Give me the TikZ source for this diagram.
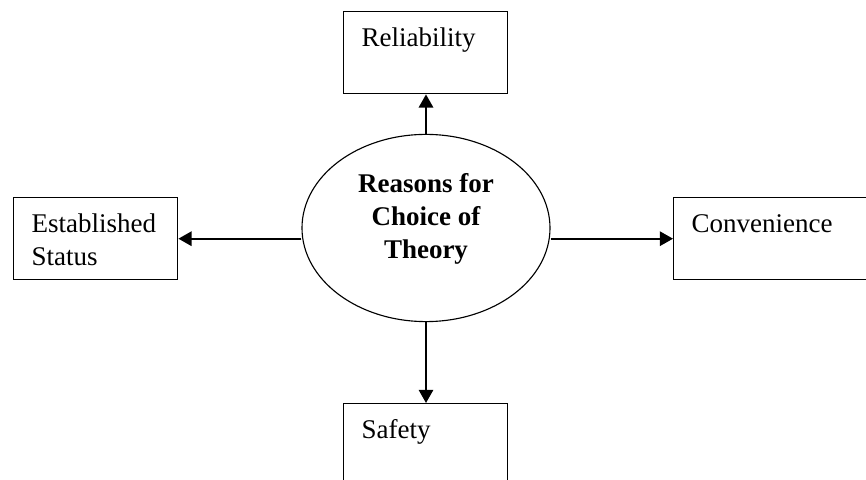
\documentclass[tikz,border=0pt]{standalone}
\usepackage{fontspec}
\setmainfont{Liberation Serif}
\usetikzlibrary{arrows.meta,shapes.geometric}

\begin{document}
\begin{tikzpicture}[
	reason/.style={draw, line width=1pt, anchor=north west,
		inner xsep=0.45cm, inner ysep=0.3cm, text width=3.2cm, align=left,
		text height=0.575cm, text depth=0.875cm,
		font=\fontsize{19.2}{23.4}\selectfont},
	link/.style={line width=1.4pt, -{Triangle[length=0.33cm,width=0.36cm]}}
	]
	\useasboundingbox (0,0) rectangle (21.65,11.975);
	
	% centre
	\node[draw, ellipse, line width=0.8pt, minimum width=6.2cm, minimum height=4.68cm,
	align=center, text depth=0.6cm, font=\bfseries\fontsize{19.2}{23.4}\selectfont]
	(theory) at (10.65,6.275) {Reasons for\\Choice of\\Theory};
	
	% reasons
	\node[reason] (rel) at (8.575,11.7) {Reliability};
	\node[reason] (est) at (0.325,7.05) {Established\\Status};
	\node[reason, text width=4.1cm] (con) at (16.825,7.05) {Convenience};
	\node[reason] (saf) at (8.575,1.9) {Safety};
	
	% arrows
	\draw[link] (theory.north) -- (theory.north |- rel.south);
	\draw[link] (theory.south) -- (theory.south |- saf.north);
	\draw[link] (est.east -| theory.west) -- (est.east);
	\draw[link] (con.west -| theory.east) -- (con.west);
	
\end{tikzpicture}
\end{document}
